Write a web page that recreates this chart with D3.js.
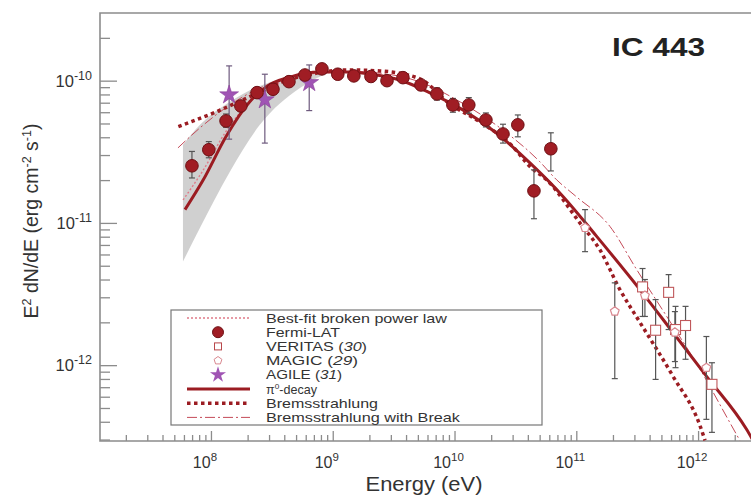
<!DOCTYPE html>
<html><head><meta charset="utf-8">
<script src="https://cdn.jsdelivr.net/npm/d3@7"></script>
<style>
body{margin:0;background:#fff}
svg{display:block}
text{font-family:"Liberation Sans",Arial,Helvetica,sans-serif;fill:#333}
</style>
</head><body>
<svg id="c" width="751" height="497"></svg>
<script>
// ---------- DATA ----------
const xDomain = [1.227e7, 2.72e12];
const yDomain = [2.93e-13, 2.99e-10];
const xMajorExps = [8, 9, 10, 11, 12];
const yMajorExps = [-10, -11, -12];

const fermiE  = [6.98e7, 9.6e7, 1.33e8, 1.76e8, 2.39e8, 3.23e8, 4.37e8, 5.91e8, 8.15e8, 1.10e9, 1.49e9, 2.06e9, 2.79e9, 3.77e9, 5.30e9, 7.17e9, 9.70e9, 1.31e10, 1.81e10, 2.50e10, 3.31e10, 4.49e10, 6.18e10];
const fermiF  = [2.52e-11, 3.27e-11, 5.21e-11, 6.64e-11, 8.24e-11, 8.7e-11, 9.84e-11, 1.096e-10, 1.21e-10, 1.11e-10, 1.08e-10, 1.07e-10, 1.0e-10, 1.05e-10, 9.33e-11, 8.07e-11, 6.75e-11, 6.75e-11, 5.29e-11, 4.22e-11, 4.89e-11, 1.68e-11, 3.32e-11];
const fermiLo = [2.07e-11, 2.87e-11, 4.7e-11, 6.1e-11, 7.7e-11, 8.2e-11, 9.3e-11, 1.04e-10, 1.15e-10, 1.05e-10, 1.02e-10, 1.01e-10, 9.4e-11, 9.8e-11, 8.6e-11, 7.3e-11, 6.0e-11, 5.9e-11, 4.73e-11, 3.64e-11, 4.03e-11, 1.07e-11, 2.32e-11];
const fermiHi = [3.18e-11, 3.73e-11, 5.83e-11, 7.2e-11, 8.8e-11, 9.2e-11, 1.04e-10, 1.15e-10, 1.27e-10, 1.17e-10, 1.14e-10, 1.13e-10, 1.06e-10, 1.12e-10, 1.0e-10, 8.9e-11, 7.5e-11, 7.6e-11, 5.93e-11, 4.94e-11, 5.74e-11, 2.36e-11, 4.30e-11];

const agileE  = [1.41e8, 2.77e8, 6.41e8];
const agileF  = [7.94e-11, 7.33e-11, 9.68e-11];
const agileLo = [3.88e-11, 3.64e-11, 6.16e-11];
const agileHi = [1.27e-10, 1.11e-10, 1.29e-10];

const veritasE  = [3.50e11, 4.48e11, 5.73e11, 6.53e11, 7.89e11, 1.30e12];
const veritasF  = [3.55e-12, 1.76e-12, 3.25e-12, 1.78e-12, 1.90e-12, 7.33e-13];
const veritasLo = [2.20e-12, 7.94e-13, 1.78e-12, 9.6e-13, 1.10e-12, 3.37e-13];
const veritasHi = [4.78e-12, 2.89e-12, 4.33e-12, 2.59e-12, 2.59e-12, 1.04e-12];

const magicE  = [1.18e11, 2.07e11, 3.66e11, 6.45e11, 1.17e12];
const magicF  = [9.24e-12, 2.39e-12, 3.08e-12, 1.70e-12, 9.59e-13];
const magicLo = [6.28e-12, 8.04e-13, 2.2e-12, 1.06e-12, 4.16e-13];
const magicHi = [1.24e-11, 3.79e-12, 4.0e-12, 2.38e-12, 1.59e-12];

const pionE = [6.12e7, 8.65e7, 1.33e8, 2.09e8, 2.86e8, 4.46e8, 7.85e8, 1.38e9, 2.22e9, 3.56e9, 6.28e9, 1.17e10, 2.22e10, 4.16e10, 7.81e10, 1.47e11, 3.33e11, 6.25e11, 1.17e12, 2.50e12, 2.8e12];
const pionF = [1.24e-11, 2.01e-11, 4.05e-11, 7.13e-11, 9.08e-11, 1.06e-10, 1.15e-10, 1.15e-10, 1.10e-10, 1.01e-10, 8.20e-11, 6.23e-11, 4.27e-11, 2.64e-11, 1.53e-11, 8.04e-12, 3.40e-12, 1.69e-12, 8.38e-13, 3.54e-13, 3.0e-13];

const bremE = [5.40e7, 1.11e8, 2.09e8, 3.90e8, 7.38e8, 1.26e9, 2.44e9, 5.20e9, 9.17e9, 1.62e10, 3.01e10, 4.16e10, 5.70e10, 1.07e11, 1.56e11, 2.28e11, 3.33e11, 6.21e11, 1.04e12, 1.14e12];
const bremF = [4.75e-11, 6.05e-11, 7.72e-11, 9.84e-11, 1.13e-10, 1.19e-10, 1.17e-10, 1.03e-10, 6.85e-11, 5.13e-11, 3.44e-11, 2.49e-11, 2.01e-11, 1.00e-11, 6.48e-12, 3.40e-12, 2.0e-12, 8.38e-13, 3.73e-13, 2.96e-13];

const bremBrkE = [5.36e7, 8.13e7, 1.43e8, 2.52e8, 5.38e8, 1.15e9, 2.44e9, 5.2e9, 1.11e10, 2.36e10, 5.02e10, 6.89e10, 1.00e11, 1.89e11, 3.13e11, 5.51e11, 1.04e12, 1.82e12, 2.2e12];
const bremBrkF = [3.37e-11, 4.66e-11, 6.75e-11, 8.88e-11, 1.08e-10, 1.17e-10, 1.13e-10, 9.8e-11, 7.1e-11, 4.66e-11, 2.69e-11, 2.01e-11, 1.53e-11, 9.44e-12, 4.70e-12, 2.21e-12, 9.33e-13, 3.96e-13, 2.96e-13];

const bplE = [5.9e7, 8.5e7, 1.33e8, 2.09e8, 3.5e8, 7.0e8, 1.5e9];
const bplF = [1.45e-11, 2.3e-11, 4.4e-11, 7.1e-11, 9.5e-11, 1.12e-10, 1.16e-10];

const bandE  = [5.89e7, 8.13e7, 1.43e8, 2.52e8, 5.38e8, 9.48e8];
const bandUp = [3.54e-11, 4.89e-11, 7.10e-11, 9.18e-11, 1.10e-10, 1.17e-10];
const bandLo = [5.35e-12, 9.25e-12, 2.29e-11, 4.89e-11, 8.88e-11, 1.15e-10];

const legendLabels = ["Best-fit broken power law", "Fermi-LAT", "VERITAS", "MAGIC", "AGILE", "decay", "Bremsstrahlung", "Bremsstrahlung with Break"];
const legendRefs = ["", "", "30", "29", "31", "", "", ""];

// ---------- STYLE ----------
const RED = "#9b1c22";
const frameCol = "#8c8c8c";
const errCol = "#555";
const legendWidths = [181, 74, 101, 92, 76, 51, 112, 194];

const svg = d3.select("#c");
const L = 100, T = 13, B = 441, R = 751;
const x = d3.scaleLog().domain(xDomain).range([L, R]);
const y = d3.scaleLog().domain(yDomain).range([B, T]);

svg.append("rect").attr("width", 751).attr("height", 497).attr("fill", "#fff");

svg.append("defs").append("clipPath").attr("id", "clip")
  .append("rect").attr("x", L).attr("y", T).attr("width", R - L + 5).attr("height", B - T);

// ---------- AXES ----------
const xMinor = [], yMinor = [];
for (let e = 7; e <= 12; e++) for (let k = 2; k <= 9; k++) { const v = k * Math.pow(10, e); if (v > xDomain[0] && v < xDomain[1]) xMinor.push(v); }
for (let e = -13; e <= -10; e++) for (let k = 2; k <= 9; k++) { const v = k * Math.pow(10, e); if (v > yDomain[0] && v < yDomain[1]) yMinor.push(v); }
const xMajor = xMajorExps.map(e => Math.pow(10, e));
const yMajor = yMajorExps.map(e => Math.pow(10, e));

function styleAxis(g) { g.select(".domain").remove(); g.selectAll("line").attr("stroke", frameCol).attr("stroke-width", 1.3); }
svg.append("g").attr("transform", `translate(0,${B})`).call(d3.axisTop(x).tickValues(xMinor).tickSize(6).tickFormat("")).call(styleAxis);
svg.append("g").attr("transform", `translate(0,${B})`).call(d3.axisTop(x).tickValues(xMajor).tickSize(10).tickFormat("")).call(styleAxis);
svg.append("g").attr("transform", `translate(${L},0)`).call(d3.axisRight(y).tickValues(yMinor).tickSize(10).tickFormat("")).call(styleAxis);
svg.append("g").attr("transform", `translate(${L},0)`).call(d3.axisRight(y).tickValues(yMajor).tickSize(17).tickFormat("")).call(styleAxis);

// frame
svg.append("path").attr("d", `M${R},${T}H${L}V${B}H${R}`).attr("fill", "none").attr("stroke", frameCol).attr("stroke-width", 1.6);

// tick labels
xMajorExps.forEach(e => {
  const t = svg.append("text").attr("x", x(Math.pow(10, e)) - 6).attr("y", 468).attr("text-anchor", "middle").attr("font-size", 16);
  t.append("tspan").text("10");
  t.append("tspan").attr("dy", -7).attr("font-size", 11.5).text(e);
});
yMajorExps.forEach(e => {
  const t = svg.append("text").attr("x", 92).attr("y", y(Math.pow(10, e)) + 6).attr("text-anchor", "end").attr("font-size", 16.5);
  t.append("tspan").text("10");
  t.append("tspan").attr("dy", -7).attr("font-size", 12.5).text(e);
});

// axis titles
const yt = svg.append("text").attr("transform", "translate(38,221) rotate(-90)").attr("text-anchor", "middle").attr("font-size", 19.5);
yt.append("tspan").text("E");
yt.append("tspan").attr("dy", -7).attr("font-size", 12.5).text("2");
yt.append("tspan").attr("dy", 7).text(" dN/dE (erg cm");
yt.append("tspan").attr("dy", -7).attr("font-size", 12.5).text("-2");
yt.append("tspan").attr("dy", 7).text(" s");
yt.append("tspan").attr("dy", -7).attr("font-size", 12.5).text("-1");
yt.append("tspan").attr("dy", 7).text(")");

svg.append("text").attr("x", 424).attr("y", 491).attr("text-anchor", "middle").attr("font-size", 20)
  .attr("textLength", 117).attr("lengthAdjust", "spacingAndGlyphs").text("Energy (eV)");
svg.append("text").attr("x", 612).attr("y", 56).attr("font-size", 25).attr("font-weight", "bold").style("fill", "#222")
  .attr("textLength", 93).attr("lengthAdjust", "spacingAndGlyphs").text("IC 443");

// ---------- PLOT ----------
const plot = svg.append("g").attr("clip-path", "url(#clip)");

// gray band
plot.append("path")
  .datum(bandE.map((e, i) => [e, bandLo[i], bandUp[i]]))
  .attr("d", d3.area().x(d => x(d[0])).y0(d => y(d[1])).y1(d => y(d[2])).curve(d3.curveMonotoneX))
  .attr("fill", "#c8c8c8").attr("opacity", 0.85);

const line = d3.line().x(d => x(d[0])).y(d => y(d[1])).curve(d3.curveMonotoneX);
const zip = (a, b) => a.map((v, i) => [v, b[i]]);

plot.append("path").datum(zip(bplE, bplF)).attr("d", line)
  .attr("fill", "none").attr("stroke", "#e07a88").attr("stroke-width", 1.4).attr("stroke-dasharray", "2,2");
plot.append("path").datum(zip(bremBrkE, bremBrkF)).attr("d", line)
  .attr("fill", "none").attr("stroke", "#c44a58").attr("stroke-width", 1).attr("stroke-dasharray", "10,3,2,3");
plot.append("path").datum(zip(bremE, bremF)).attr("d", line)
  .attr("fill", "none").attr("stroke", RED).attr("stroke-width", 3.5).attr("stroke-dasharray", "3.5,3.5");
plot.append("path").datum(zip(pionE, pionF)).attr("d", line)
  .attr("fill", "none").attr("stroke", RED).attr("stroke-width", 3);

// error bars
function errBars(E, lo, hi, col) {
  const g = plot.append("g").attr("stroke", col).attr("stroke-width", 1.2);
  E.forEach((e, i) => {
    const xx = x(e);
    g.append("line").attr("x1", xx).attr("x2", xx).attr("y1", y(lo[i])).attr("y2", y(hi[i]));
    g.append("line").attr("x1", xx - 3).attr("x2", xx + 3).attr("y1", y(lo[i])).attr("y2", y(lo[i]));
    g.append("line").attr("x1", xx - 3).attr("x2", xx + 3).attr("y1", y(hi[i])).attr("y2", y(hi[i]));
  });
}
errBars(veritasE, veritasLo, veritasHi, errCol);
errBars(magicE, magicLo, magicHi, errCol);
errBars(agileE, agileLo, agileHi, "#6e5a7e");
errBars(fermiE, fermiLo, fermiHi, errCol);

// pentagon symbol
const pentagon = { draw(ctx, size) { const r = Math.sqrt(size / 2.38); for (let k = 0; k < 5; k++) { const a = -Math.PI / 2 + k * 2 * Math.PI / 5; const px = r * Math.cos(a), py = r * Math.sin(a); if (k === 0) ctx.moveTo(px, py); else ctx.lineTo(px, py); } ctx.closePath(); } };

// markers
plot.selectAll(".vr").data(zip(veritasE, veritasF)).join("rect")
  .attr("x", d => x(d[0]) - 5).attr("y", d => y(d[1]) - 5).attr("width", 10).attr("height", 10)
  .attr("fill", "#fff").attr("stroke", "#c0585b").attr("stroke-width", 1.1);
plot.selectAll(".mg").data(zip(magicE, magicF)).join("path")
  .attr("transform", d => `translate(${x(d[0])},${y(d[1])})`)
  .attr("d", d3.symbol().type(pentagon).size(50))
  .attr("fill", "#fff").attr("stroke", "#d98890").attr("stroke-width", 1.2);
plot.selectAll(".ag").data(zip(agileE, agileF)).join("path")
  .attr("transform", d => `translate(${x(d[0])},${y(d[1])})`)
  .attr("d", d3.symbol().type(d3.symbolStar).size(110))
  .attr("fill", "#a054b4").attr("stroke", "#8a4098").attr("stroke-width", 0.6);
plot.selectAll(".fm").data(zip(fermiE, fermiF)).join("circle")
  .attr("cx", d => x(d[0])).attr("cy", d => y(d[1])).attr("r", 6.3)
  .attr("fill", "#a01d24").attr("stroke", "#6e1014").attr("stroke-width", 1);

// ---------- LEGEND ----------
const lg = svg.append("g");
lg.append("rect").attr("x", 171).attr("y", 310).attr("width", 371).attr("height", 115)
  .attr("fill", "#fff").attr("stroke", "#777").attr("stroke-width", 1.2);
const rowY = i => 318 + i * 14.2;
const sx0 = 187, sx1 = 250, sxc = 218, tx = 266;
legendLabels.forEach((lab, i) => {
  const cy = rowY(i);
  if (i === 0) lg.append("line").attr("x1", sx0).attr("x2", sx1).attr("y1", cy).attr("y2", cy).attr("stroke", "#e07a88").attr("stroke-width", 1.4).attr("stroke-dasharray", "2,2");
  if (i === 1) lg.append("circle").attr("cx", sxc).attr("cy", cy).attr("r", 5.5).attr("fill", "#a01d24").attr("stroke", "#6e1014");
  if (i === 2) lg.append("rect").attr("x", sxc - 3.5).attr("y", cy - 3.5).attr("width", 7).attr("height", 7).attr("fill", "#fff").attr("stroke", "#b8474a");
  if (i === 3) lg.append("path").attr("transform", `translate(${sxc},${cy})`).attr("d", d3.symbol().type(pentagon).size(40)).attr("fill", "#fff").attr("stroke", "#d98890");
  if (i === 4) lg.append("path").attr("transform", `translate(${sxc},${cy})`).attr("d", d3.symbol().type(d3.symbolStar).size(80)).attr("fill", "#a054b4");
  if (i === 5) lg.append("line").attr("x1", sx0).attr("x2", sx1).attr("y1", cy).attr("y2", cy).attr("stroke", RED).attr("stroke-width", 3);
  if (i === 6) lg.append("line").attr("x1", sx0).attr("x2", sx1).attr("y1", cy).attr("y2", cy).attr("stroke", RED).attr("stroke-width", 3.5).attr("stroke-dasharray", "3.5,3.5");
  if (i === 7) lg.append("line").attr("x1", sx0).attr("x2", sx1).attr("y1", cy).attr("y2", cy).attr("stroke", "#c44a58").attr("stroke-width", 1).attr("stroke-dasharray", "10,3,2,3");
  const t = lg.append("text").attr("x", tx).attr("y", cy + 4.5).attr("font-size", 12.2)
    .attr("textLength", legendWidths[i]).attr("lengthAdjust", "spacingAndGlyphs");
  if (i === 5) {
    t.append("tspan").text("\u03C0");
    t.append("tspan").attr("dy", -5).attr("font-size", 8).text("0");
    t.append("tspan").attr("dy", 5).text("-" + lab);
  } else {
    t.append("tspan").text(lab);
    if (legendRefs[i]) {
      t.append("tspan").text(" (");
      t.append("tspan").attr("font-style", "italic").text(legendRefs[i]);
      t.append("tspan").text(")");
    }
  }
});
</script>
</body></html>
